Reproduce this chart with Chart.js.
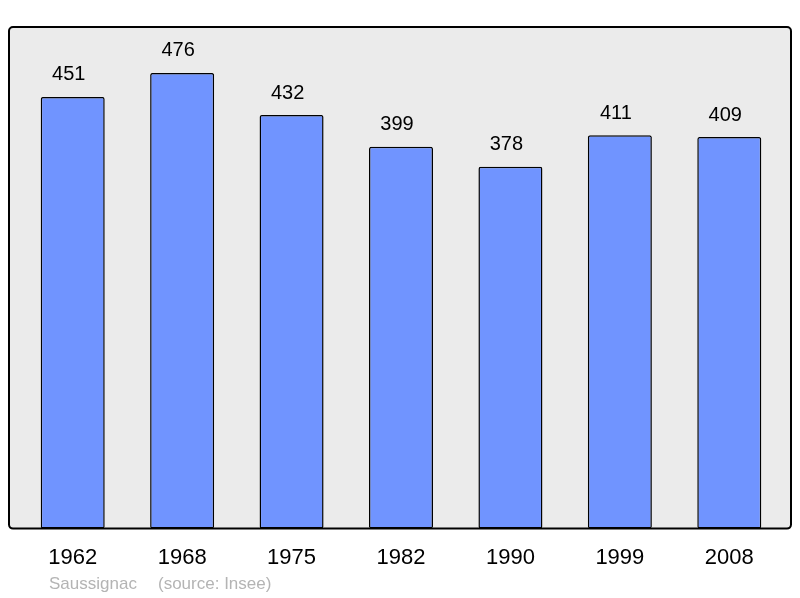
<!DOCTYPE html>
<html>
<head>
<meta charset="utf-8">
<script src="https://cdn.jsdelivr.net/npm/chart.js@4.4.1/dist/chart.umd.min.js"></script>
<style>
  html, body { margin: 0; padding: 0; background: #fff; }
  #wrap { width: 800px; height: 598px; position: relative; }
</style>
</head>
<body>
<div id="wrap"><canvas id="popChart"></canvas></div>
<script>
const years = ["1962", "1968", "1975", "1982", "1990", "1999", "2008"];
const population = [451, 476, 432, 399, 378, 411, 409];
const footerName = "Saussignac";
const footerSource = "(source: Insee)";

// grey panel behind the bars, black frame drawn on top
const panel = {
    id: "panel",
    beforeDatasetsDraw(chart) {
        const a = chart.chartArea;
        const ctx = chart.ctx;
        ctx.save();
        ctx.beginPath();
        ctx.roundRect(a.left - 9, a.top, a.right - a.left + 16, a.bottom - a.top, 4);
        ctx.fillStyle = "#ebebeb";
        ctx.fill();
        ctx.restore();
    },
    afterDatasetsDraw(chart) {
        const a = chart.chartArea;
        const ctx = chart.ctx;
        ctx.save();
        ctx.beginPath();
        ctx.roundRect(a.left - 9, a.top, a.right - a.left + 16, a.bottom - a.top, 4);
        ctx.lineWidth = 2;
        ctx.strokeStyle = "#000";
        ctx.stroke();

        // values above bars
        const meta = chart.getDatasetMeta(0);
        ctx.fillStyle = "#000";
        ctx.font = "20px 'Liberation Sans', Arial, sans-serif";
        ctx.textAlign = "center";
        ctx.textBaseline = "middle";
        meta.data.forEach((bar, i) => {
            ctx.fillText(String(population[i]), bar.x - 4, bar.y - 22);
        });

        // footer
        ctx.fillStyle = "#b4b4b4";
        ctx.font = "17px 'Liberation Sans', Arial, sans-serif";
        ctx.textAlign = "left";
        ctx.fillText(footerName, 49, 584);
        ctx.fillText(footerSource, 158, 584);
        ctx.restore();
    }
};

new Chart(document.getElementById("popChart"), {
    type: "bar",
    data: {
        labels: years,
        datasets: [{
            data: population,
            backgroundColor: "#7094ff",
            borderColor: "#000",
            borderWidth: 1.5,
            borderRadius: 2,
            borderSkipped: false,
            categoryPercentage: 1,
            barPercentage: 0.585
        }]
    },
    options: {
        responsive: true,
        maintainAspectRatio: false,
        animation: false,
        layout: { padding: { left: 18, right: 16, top: 27, bottom: 19 } },
        plugins: {
            legend: { display: false },
            tooltip: { enabled: false }
        },
        scales: {
            y: { display: false, min: 0, max: 524 },
            x: {
                grid: { display: false },
                border: { display: false },
                ticks: {
                    padding: 8,
                    color: "#000",
                    font: { size: 22, family: "'Liberation Sans', Arial, sans-serif" }
                }
            }
        }
    },
    plugins: [panel]
});
</script>
</body>
</html>
